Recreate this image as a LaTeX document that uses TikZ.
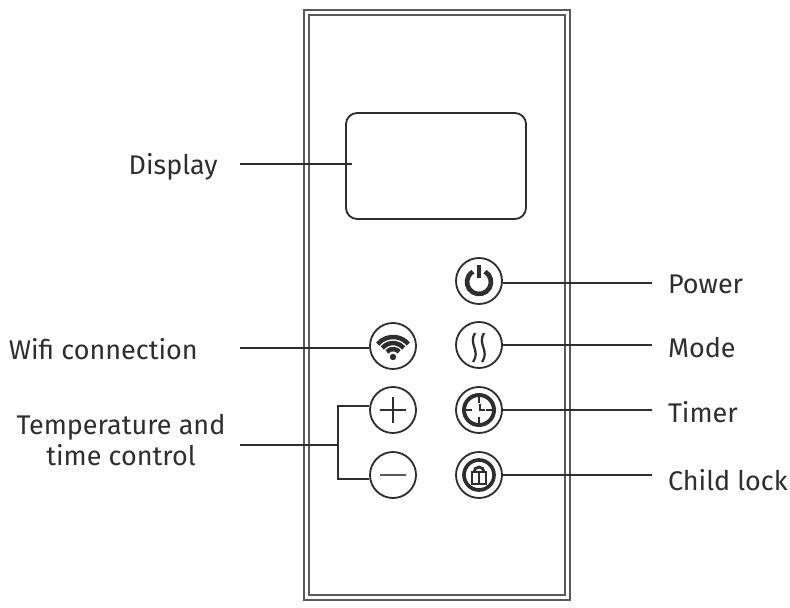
\documentclass[tikz,border=0pt]{standalone}
\usepackage{fontspec}
\setmainfont{Fira Sans}
\definecolor{ink}{gray}{0.18}
\tikzset{
  button/.style={draw=ink,circle,line width=1.3pt,minimum size=1.15cm,inner sep=0pt},
  wire/.style={draw=ink,line width=1.2pt},
  caption/.style={inner sep=0pt,text=ink,font=\fontsize{19.2}{21.5}\selectfont},
  rightcaption/.style={caption,anchor=base west,outer xsep=0.4cm},
  leftcaption/.style={caption,anchor=base east}
}
\begin{document}
\begin{tikzpicture}[x=0.025cm,y=0.025cm]
\useasboundingbox (0,0) rectangle (790,607);
% casing
\draw[gray!70!black,line width=2.1pt] (304,7) rectangle (570,597);
\draw[gray!70!black,line width=1.8pt] (309,12) rectangle (565,592);
\node[draw=ink,line width=1.3pt,rounded corners=0.28cm,minimum width=4.5cm,minimum height=2.65cm] (display) at (436,441) {};
% buttons
\node[button] (power) at (479,326) {};
\node[button] (mode) at (479,262) {};
\node[button] (wifi) at (393,261) {};
\node[button] (plus) at (393,197) {};
\node[button] (minus) at (393,132) {};
\node[button] (timer) at (479,197) {};
\node[button] (lock) at (479,132) {};
% icon power
\draw[ink,line width=3.3pt] (485,335.4) arc[start angle=60,end angle=-240,radius=12];
\draw[ink,line width=2.6pt] (479,342) -- (479,329);
% icon wifi
\draw[ink,line width=3.2pt] (386.9,255.1) arc[start angle=140,end angle=40,radius=8];
\draw[ink,line width=3.2pt] (382.3,259) arc[start angle=140,end angle=40,radius=14];
\draw[ink,line width=3.2pt] (377.7,262.9) arc[start angle=140,end angle=40,radius=20];
\fill[ink] (393,250) circle (3.2);
% icon mode
\draw[ink,line width=1.6pt] (475,274) .. controls (468,263) and (481,256) .. (473,245);
\draw[ink,line width=1.6pt] (484,274) .. controls (477,263) and (490,256) .. (482,245);
% icon plus and minus
\draw[ink,line width=1.4pt] (380,197) -- (406,197);
\draw[ink,line width=2pt] (393,184) -- (393,210);
\draw[ink!80,line width=1.3pt] (380,132) -- (406,132);
% icon timer
\draw[ink,line width=2.8pt] (479,197) circle (15);
\draw[ink,line width=1.2pt] (465,197) -- (472,197) (486,197) -- (493,197) (479,183) -- (479,190) (479,204) -- (479,211);
\draw[ink,line width=1.4pt] (480,203) -- (480,197) -- (485,197);
% icon lock
\draw[ink,line width=2.6pt] (479,132) circle (15);
\draw[ink,line width=2pt] (472,123) rectangle (486,135);
\draw[ink,line width=2pt] (474,135) arc[start angle=180,end angle=0,radius=5];
\draw[ink,line width=1.2pt] (479,123) -- (479,135);
% captions
\node[leftcaption] (displaylabel) at (218,432) {Display};
\node[leftcaption] (wifilabel) at (198,248) {Wifi connection};
\node[caption,align=center] (templabel) at (121,167) {Temperature and\\time control};
\node[rightcaption] (powerlabel) at (652,313) {Power};
\node[rightcaption] (modelabel) at (652,249) {Mode};
\node[rightcaption] (timerlabel) at (652,185) {Timer};
\node[rightcaption] (locklabel) at (652,117) {Child lock};
% connectors
\coordinate (displaytip) at (352,443);
\coordinate (displaystart) at (240,443);
\coordinate (wifistart) at (240,259);
\coordinate (tempstart) at (240,162);
\coordinate (fork) at (338,162);
\draw[wire] (displaystart) -- (displaytip);
\draw[wire] (wifistart) -- (wifi.west |- wifistart);
\draw[wire] (tempstart) -- (fork);
\draw[wire] (plus.170) -| (fork) |- (minus.190);
\draw[wire] (power.-5) -- (power.-5 -| powerlabel.west);
\draw[wire] (mode.east) -- (mode.east -| modelabel.west);
\draw[wire] (timer.east) -- (timer.east -| timerlabel.west);
\draw[wire] (lock.east) -- (lock.east -| locklabel.west);
\end{tikzpicture}
\end{document}
